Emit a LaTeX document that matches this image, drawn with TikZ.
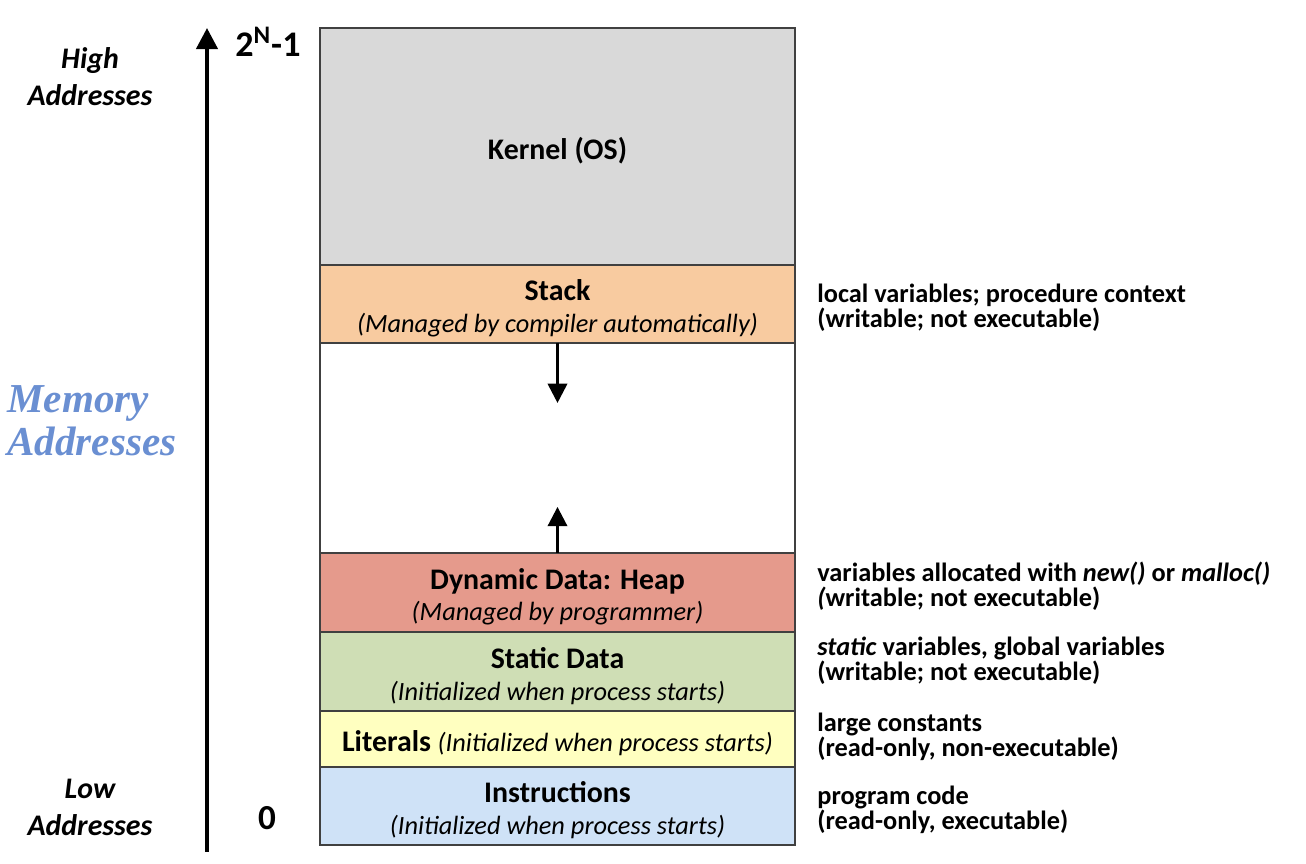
\documentclass[tikz,border=0pt]{standalone}
\usepackage{fontspec}
\setmainfont{Carlito}
\newfontfamily\memfont{Liberation Serif}
\usetikzlibrary{arrows.meta, calc, positioning}
\definecolor{kernelgrey}{HTML}{D9D9D9}
\definecolor{stackorange}{HTML}{F8CBA0}
\definecolor{heapred}{HTML}{E59A8C}
\definecolor{staticgreen}{HTML}{CFDEB5}
\definecolor{literalyellow}{HTML}{FFFFC0}
\definecolor{instrblue}{HTML}{CFE2F7}
\definecolor{memblue}{HTML}{6A8FD2}
\newcommand{\segtitle}[1]{\rule{0pt}{17pt}#1}
\newcommand{\segsub}[1]{{\fontsize{15}{18}\selectfont\mdseries\itshape #1}}

\begin{document}
\begin{tikzpicture}
	[x=0.02cm, y=-0.02cm,
	seg/.style={draw=black!75, line width=0.8pt, minimum width=9.5cm, inner sep=0pt, outer sep=0pt, align=center, font=\fontsize{17}{18}\selectfont\bfseries},
	note/.style={anchor=west, inner sep=0pt, align=left, font=\fontsize{15}{14.2}\selectfont\bfseries},
	addr/.style={align=center, font=\fontsize{17}{21}\selectfont\bfseries\itshape},
	growarrow/.style={line width=1.6pt, -{Triangle[width=11pt, length=11pt]}}]
	\useasboundingbox (0,0) rectangle (1306,864);

	\node[seg, fill=kernelgrey, minimum height=4.74cm](kernel) at (557.5,146.5) {\segtitle{Kernel (OS)}};
	\node[seg, fill=stackorange, minimum height=1.56cm, below=0pt of kernel](stack) {\segtitle{Stack}\\\segsub{(Managed by compiler automatically)}};
	\node[seg, fill=white, minimum height=4.2cm, below=0pt of stack](gap) {};
	\node[seg, fill=heapred, minimum height=1.58cm, below=0pt of gap](heap) {\segtitle{Dynamic Data: Heap}\\\segsub{(Managed by programmer)}};
	\node[seg, fill=staticgreen, minimum height=1.58cm, below=0pt of heap](static) {\segtitle{Static Data}\\\segsub{(Initialized when process starts)}};
	\node[seg, fill=literalyellow, minimum height=1.12cm, below=0pt of static](literals) {\segtitle{Literals} \segsub{(Initialized when process starts)}};
	\node[seg, fill=instrblue, minimum height=1.56cm, below=0pt of literals](instr) {\segtitle{Instructions}\\\segsub{(Initialized when process starts)}};

	\coordinate (stackgrow) at ($(stack.south)+(0,60)$);
	\coordinate (heapgrow) at ($(heap.north)+(0,-46)$);
	\draw[growarrow] (stack.south)--(stackgrow);
	\draw[growarrow] (heap.north)--(heapgrow);

	\coordinate (axislow) at (207,852);
	\coordinate (axishigh) at (207,28);
	\draw[line width=2.3pt, -{Triangle[width=12pt, length=12pt]}] (axislow)--(axishigh);

	\node[font=\fontsize{20.5}{22}\selectfont\bfseries](topaddr) at (268,42) {2\textsuperscript{N}-1};
	\node[font=\fontsize{20}{22}\selectfont\bfseries](zeroaddr) at (267,818) {0};

	\node[addr](high) at (90,77) {High\\Addresses};
	\node[addr](low) at (90,807) {Low\\Addresses};
	\node[anchor=west, inner sep=0pt, align=left, text=memblue, font=\memfont\fontsize{23.4}{24.5}\selectfont\bfseries\itshape](memaddr) at (7,421) {Memory\\Addresses};

	\node[note](stacknote) at (817,307.5) {local variables; procedure context\\(writable; not executable)};
	\node[note](heapnote) at (817,586) {variables allocated with \textit{new()} or \textit{malloc()}\\\textit{(}writable; not executable)};
	\node[note](staticnote) at (817,660.5) {\textit{static} variables, global variables\\(writable; not executable)};
	\node[note](litnote) at (817,736.5) {large constants\\(read-only, non-executable)};
	\node[note](instrnote) at (817,809.5) {program code\\(read-only, executable)};
\end{tikzpicture}
\end{document}
